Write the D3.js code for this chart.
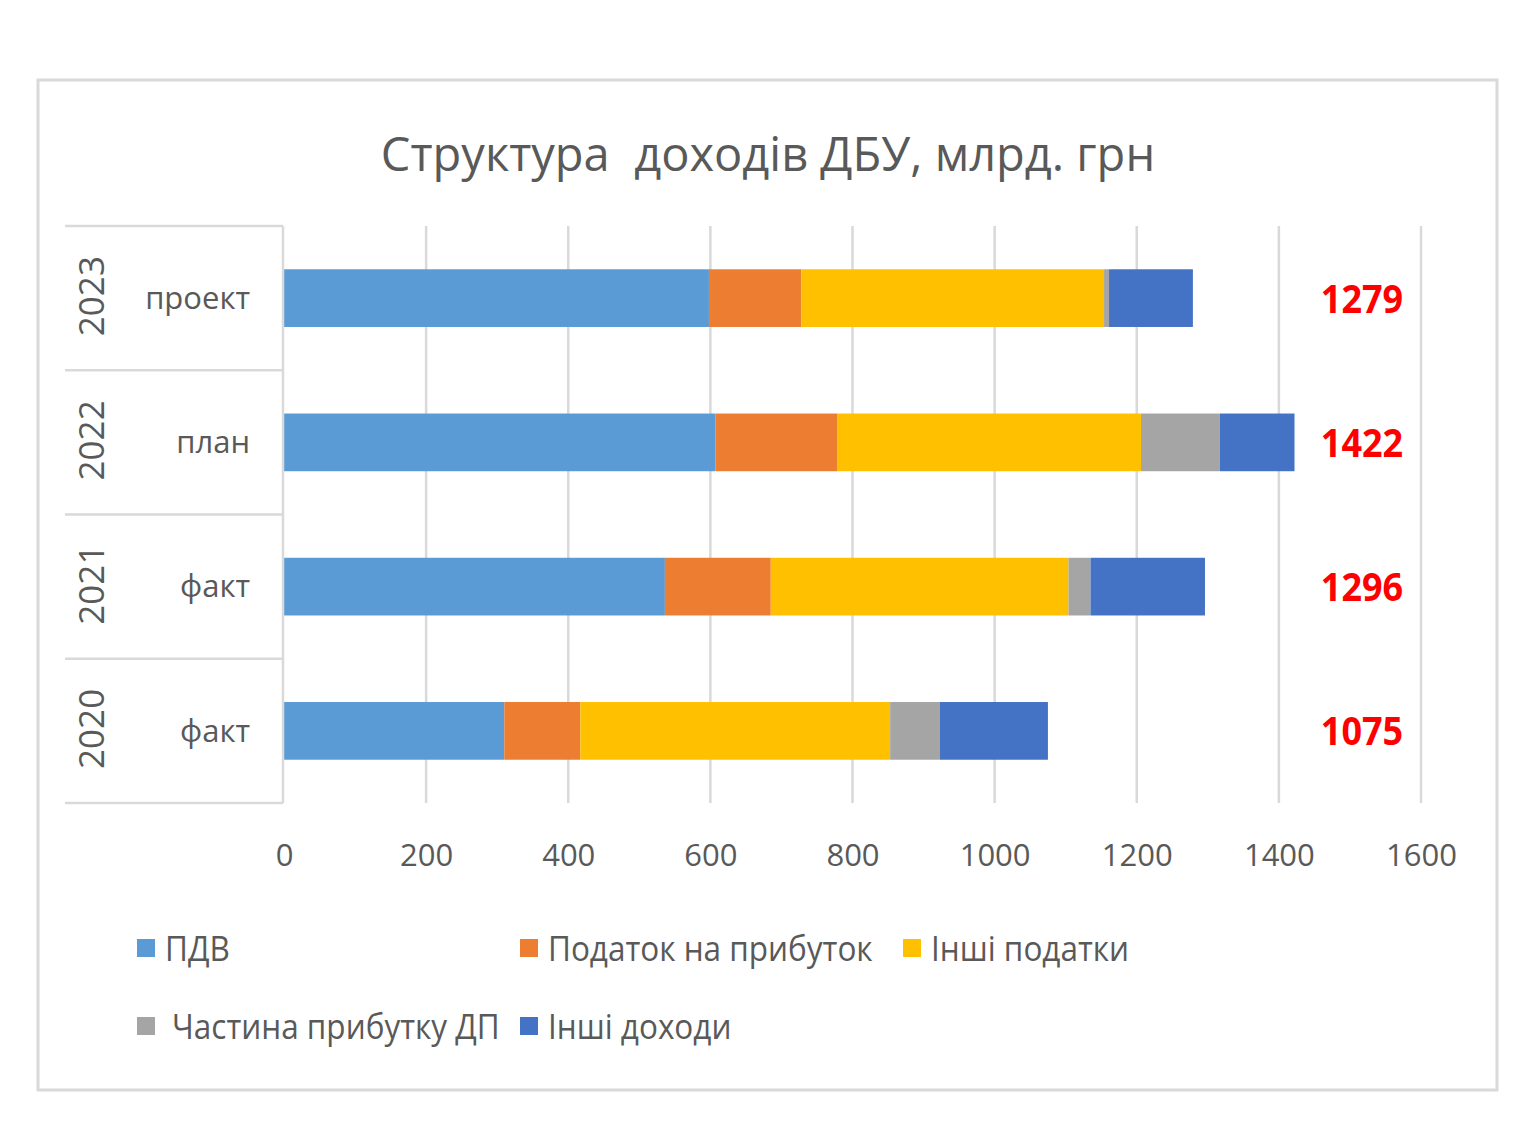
<!DOCTYPE html>
<html>
<head>
<meta charset="utf-8">
<script src="https://cdn.jsdelivr.net/npm/d3@7"></script>
<style>
  html, body { margin: 0; padding: 0; background: #fff; }
  svg { display: block; }
</style>
</head>
<body>
<svg id="chart" width="1520" height="1141"></svg>
<script>
// ---------- DATA ----------
const years      = ["2023", "2022", "2021", "2020"];
const stages     = ["проект", "план", "факт", "факт"];
const seriesNames = ["ПДВ", "Податок на прибуток", "Інші податки", "Частина прибутку ДП", "Інші доходи"];
const pdv         = [598, 607, 536, 310];
const profitTax   = [130, 172, 149, 107];
const otherTaxes  = [426, 427, 419, 436];
const stateShare  = [7, 111, 31, 70];
const otherIncome = [118, 105, 161, 152];
const totals      = [1279, 1422, 1296, 1075];
const xTicks      = [0, 200, 400, 600, 800, 1000, 1200, 1400, 1600];
const colors      = ["#5b9bd5", "#ed7d31", "#ffc000", "#a5a5a5", "#4472c4"];
const titleText   = "Структура\u00a0 доходів ДБУ, млрд. грн";

// ---------- BUILD ----------
const seriesValues = [pdv, profitTax, otherTaxes, stateShare, otherIncome];
const rows = years.map((y, i) => {
  const r = { year: y };
  seriesNames.forEach((s, k) => r[s] = seriesValues[k][i]);
  return r;
});
const stacked = d3.stack().keys(seriesNames)(rows);

const svg = d3.select("#chart");
const grey = "#595959";
const gridC = "#d9d9d9";

// outer frame
svg.append("rect").attr("x", 38).attr("y", 80).attr("width", 1459).attr("height", 1010)
  .attr("fill", "#fff").attr("stroke", gridC).attr("stroke-width", 3);

// title
svg.append("text").attr("x", 768).attr("y", 171).attr("text-anchor", "middle")
  .attr("font-family", "Open Sans").attr("font-size", 47).attr("fill", grey)
  .text(titleText);

const x = d3.scaleLinear().domain([0, 1600]).range([284, 1421]);
const y = d3.scaleBand().domain(years).range([226, 803]).paddingInner(0.6).paddingOuter(0.3);

// gridlines
svg.append("g").selectAll("line").data(xTicks.slice(1)).join("line")
  .attr("x1", d => x(d)).attr("x2", d => x(d)).attr("y1", 226).attr("y2", 803)
  .attr("stroke", gridC).attr("stroke-width", 2.5);

// bars
svg.append("g").selectAll("g").data(stacked).join("g")
  .attr("fill", (d, i) => colors[i])
  .selectAll("rect").data(d => d).join("rect")
  .attr("x", d => x(d[0])).attr("width", d => x(d[1]) - x(d[0]))
  .attr("y", d => y(d.data.year)).attr("height", y.bandwidth());

// x axis labels
const xAxis = d3.axisBottom(x).tickValues(xTicks).tickFormat(d3.format("d")).tickSize(0).tickPadding(0);
const gx = svg.append("g").attr("transform", "translate(0,866)").call(xAxis);
gx.select(".domain").remove();
gx.selectAll("text").attr("font-family", "Open Sans").attr("font-size", 31)
  .attr("fill", grey).attr("dy", 0);

// category axis (multi-level)
const step = y.step();
const bandTop = d => y(d) - y.paddingOuter() * step;
const cat = svg.append("g");
cat.append("line").attr("x1", 283).attr("x2", 283).attr("y1", 226).attr("y2", 803)
  .attr("stroke", gridC).attr("stroke-width", 2.5);
const bounds = years.map(bandTop).concat([803]);
cat.selectAll("line.sep").data(bounds).join("line").attr("class", "sep")
  .attr("x1", 65).attr("x2", 283).attr("y1", d => d).attr("y2", d => d)
  .attr("stroke", gridC).attr("stroke-width", 2.5);
cat.selectAll("text.stage").data(years).join("text").attr("class", "stage")
  .attr("x", 250).attr("y", d => y(d) + y.bandwidth() / 2).attr("dy", "0.35em")
  .attr("text-anchor", "end").attr("font-family", "Open Sans").attr("font-size", 31)
  .attr("fill", grey).text((d, i) => stages[i]);
cat.selectAll("text.year").data(years).join("text").attr("class", "year")
  .attr("transform", d => `translate(92,${y(d) + y.bandwidth() / 2 - 2}) rotate(-90)`)
  .attr("dy", "0.35em").attr("text-anchor", "middle")
  .attr("font-family", "Open Sans").attr("font-size", 35).attr("fill", grey).text(d => d);

// totals
svg.append("g").selectAll("text").data(years).join("text")
  .attr("transform", d => `translate(${x(1517)},${y(d) + y.bandwidth() / 2}) scale(0.9,1)`)
  .attr("dy", "0.36em").attr("text-anchor", "middle")
  .attr("font-family", "Open Sans").attr("font-weight", "bold").attr("font-size", 40)
  .attr("fill", "#ff0000").text((d, i) => totals[i]);

// legend
const legendPos = [[137, 948], [520, 948], [903, 948], [137, 1026], [520, 1026]];
const lg = svg.append("g").selectAll("g").data(seriesNames).join("g")
  .attr("transform", (d, i) => `translate(${legendPos[i][0]},${legendPos[i][1]})`);
lg.append("rect").attr("x", 0).attr("y", -9).attr("width", 18).attr("height", 18)
  .attr("fill", (d, i) => colors[i]);
lg.append("text").attr("transform", (d, i) => `translate(${i === 3 ? 35 : 28},0) scale(0.9,1)`)
  .attr("dy", "0.36em").attr("font-family", "Open Sans").attr("font-size", 35)
  .attr("fill", grey).text(d => d);
</script>
</body>
</html>
